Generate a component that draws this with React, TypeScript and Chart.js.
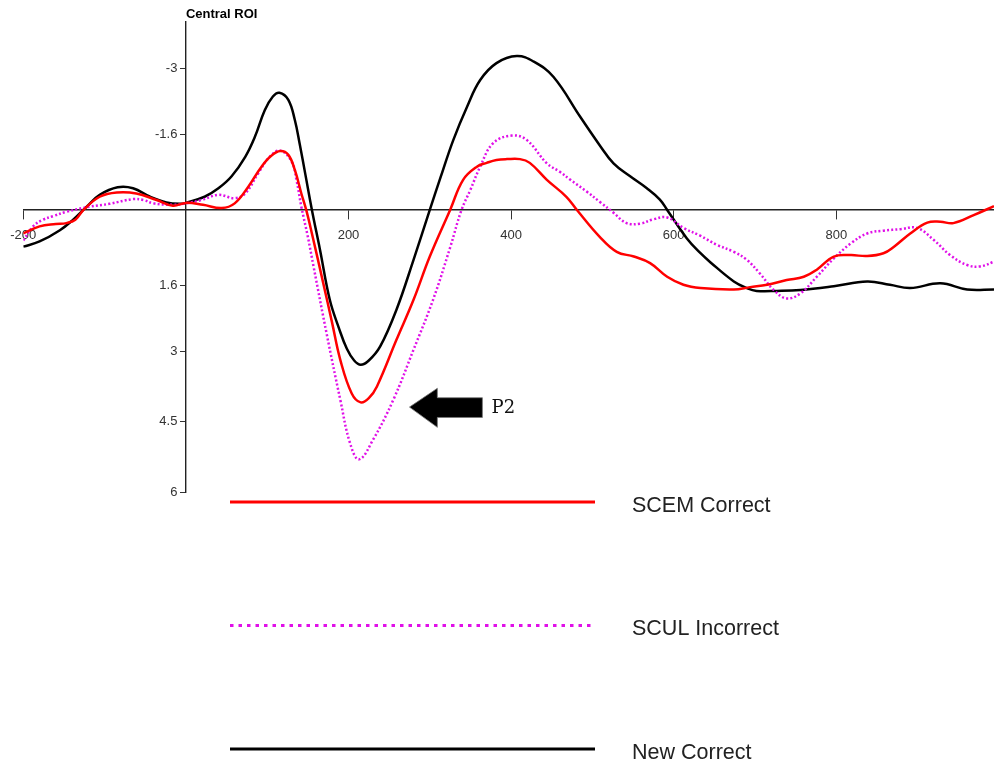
import React, { useEffect, useRef } from "react";
import { Chart, registerables } from "chart.js";

Chart.register(...registerables);

// ---- data (ms, µV) ----
const timesScemCorrect = [-200, -180, -160, -147, -136, -126, -106, -85, -61, -36, -16, 0, 21, 44, 60, 77, 93, 105, 116, 126, 134, 142, 148, 155, 169, 180, 190, 204, 215, 225, 235, 259, 280, 300, 325, 341, 358, 370, 382, 395, 411, 423, 444, 468, 481, 509, 530, 551, 571, 592, 612, 633, 674, 694, 715, 739, 760, 776, 797, 818, 838, 858, 871, 891, 912, 928, 944, 969, 994];
const valuesScemCorrect = [0.5, 0.35, 0.3, 0.28, 0.21, 0.0, -0.28, -0.37, -0.35, -0.21, -0.09, -0.15, -0.11, -0.04, -0.14, -0.5, -0.92, -1.15, -1.25, -1.17, -0.85, -0.35, 0.0, 0.5, 1.56, 2.41, 3.19, 3.9, 4.09, 4.0, 3.75, 2.76, 1.91, 0.99, 0.0, -0.64, -0.92, -1.0, -1.06, -1.08, -1.08, -1.0, -0.64, -0.28, 0.0, 0.57, 0.89, 0.99, 1.13, 1.42, 1.59, 1.66, 1.69, 1.64, 1.59, 1.49, 1.42, 1.27, 0.99, 0.96, 0.98, 0.92, 0.78, 0.5, 0.27, 0.25, 0.28, 0.11, -0.08];

const timesSculIncorrect = [-200, -188, -176, -163, -147, -118, -94, -65, -52, -40, -16, 0, 19, 40, 60, 73, 89, 103, 116, 130, 136, 142, 150, 157, 173, 190, 202, 213, 230, 255, 280, 304, 325, 339, 350, 362, 378, 401, 419, 444, 460, 473, 493, 510, 526, 542, 559, 575, 592, 612, 633, 653, 674, 690, 706, 723, 739, 756, 776, 797, 818, 838, 858, 879, 899, 920, 940, 961, 977, 994];
const valuesSculIncorrect = [0.65, 0.35, 0.21, 0.13, 0.04, -0.07, -0.13, -0.23, -0.21, -0.14, -0.11, -0.14, -0.21, -0.32, -0.25, -0.35, -0.78, -1.13, -1.26, -1.03, -0.64, -0.07, 0.57, 1.2, 2.62, 4.04, 4.96, 5.3, 4.89, 4.04, 2.97, 1.91, 0.8, 0.0, -0.43, -0.92, -1.42, -1.58, -1.49, -0.99, -0.81, -0.64, -0.39, -0.16, 0.06, 0.28, 0.29, 0.2, 0.16, 0.38, 0.55, 0.74, 0.89, 1.06, 1.35, 1.7, 1.88, 1.77, 1.42, 1.03, 0.71, 0.5, 0.44, 0.41, 0.38, 0.64, 0.96, 1.17, 1.2, 1.1];

const timesNewCorrect = [-200, -180, -155, -139, -122, -106, -84, -65, -44, -24, -7, 0, 23, 40, 56, 73, 85, 97, 107, 115, 126, 134, 140, 147, 155, 165, 177, 188, 198, 207, 215, 225, 239, 259, 280, 300, 313, 329, 346, 362, 382, 407, 428, 452, 485, 510, 526, 546, 567, 583, 592, 616, 633, 645, 674, 690, 702, 727, 756, 797, 838, 866, 891, 928, 961, 994];
const valuesNewCorrect = [0.78, 0.67, 0.43, 0.21, -0.07, -0.32, -0.48, -0.46, -0.28, -0.16, -0.13, -0.15, -0.28, -0.46, -0.71, -1.13, -1.56, -2.12, -2.41, -2.49, -2.34, -1.91, -1.4, -0.75, 0.0, 0.85, 1.91, 2.5, 2.95, 3.2, 3.29, 3.2, 2.9, 2.12, 1.06, 0.0, -0.68, -1.49, -2.2, -2.76, -3.12, -3.27, -3.15, -2.83, -1.98, -1.35, -0.99, -0.72, -0.46, -0.22, 0.0, 0.6, 0.92, 1.11, 1.52, 1.66, 1.72, 1.72, 1.7, 1.62, 1.52, 1.59, 1.66, 1.56, 1.69, 1.69];

const seriesLabels = ["SCEM Correct", "SCUL Incorrect", "New Correct"];
const xTickValues = [-200, 200, 400, 600, 800];
const yTickValues = [-3, -1.6, 1.6, 3, 4.5, 6];
const chartTitle = "Central ROI";
const annotationText = "P2";

// annotation arrow geometry, in data units (ms, µV)
const arrowTip = { x: 275, y: 4.19 };
const arrowHeadBack = { x: 309.3, top: 3.79, bottom: 4.62 };
const arrowShaft = { end: 364.7, top: 3.99, bottom: 4.41 };
const annotationLabelPos = { x: 376, y: 4.31 };

const FONT = "'Liberation Sans', Arial, Helvetica, sans-serif";
const Y_LABEL_SHIFT = 8.5;

function toPoints(t: number[], v: number[]) {
  return t.map((x, i) => ({ x, y: v[i] }));
}

const overlayPlugin = {
  id: "overlay",
  afterDraw(chart: any) {
    const ctx = chart.ctx as CanvasRenderingContext2D;
    const xs = chart.scales.x;
    const ys = chart.scales.y;
    ctx.save();

    // title
    ctx.font = `bold 13px ${FONT}`;
    ctx.fillStyle = "#000";
    ctx.textAlign = "left";
    ctx.textBaseline = "alphabetic";
    ctx.fillText(chartTitle, xs.getPixelForValue(0), 18.3);

    // arrow
    const px = (v: number) => xs.getPixelForValue(v);
    const py = (v: number) => ys.getPixelForValue(v);
    ctx.beginPath();
    ctx.moveTo(px(arrowTip.x), py(arrowTip.y));
    ctx.lineTo(px(arrowHeadBack.x), py(arrowHeadBack.top));
    ctx.lineTo(px(arrowHeadBack.x), py(arrowShaft.top));
    ctx.lineTo(px(arrowShaft.end), py(arrowShaft.top));
    ctx.lineTo(px(arrowShaft.end), py(arrowShaft.bottom));
    ctx.lineTo(px(arrowHeadBack.x), py(arrowShaft.bottom));
    ctx.lineTo(px(arrowHeadBack.x), py(arrowHeadBack.bottom));
    ctx.closePath();
    ctx.fillStyle = "#000";
    ctx.fill();
    ctx.strokeStyle = "#777";
    ctx.lineWidth = 0.8;
    ctx.stroke();

    ctx.font = `18px 'DejaVu Serif', 'Liberation Serif', serif`;
    ctx.fillStyle = "#111";
    ctx.fillText(annotationText, px(annotationLabelPos.x), py(annotationLabelPos.y));

    // legend
    chart.data.datasets.forEach((ds: any, i: number) => {
      const y = 501.9 + i * 123.5;
      ctx.beginPath();
      ctx.strokeStyle = ds.borderColor;
      ctx.lineWidth = 3;
      ctx.setLineDash(ds.borderDash && ds.borderDash.length ? [3.5, 5] : []);
      ctx.moveTo(230, y);
      ctx.lineTo(595, y);
      ctx.stroke();
      ctx.setLineDash([]);
      ctx.font = `21.5px ${FONT}`;
      ctx.fillStyle = "#222";
      ctx.textAlign = "left";
      ctx.textBaseline = "alphabetic";
      ctx.fillText(ds.label, 632, y + 9.6);
    });

    ctx.restore();
  },
};

export default function App() {
  const canvasRef = useRef<HTMLCanvasElement | null>(null);

  useEffect(() => {
    if (!canvasRef.current) return;
    const lineCommon = { pointRadius: 0, tension: 0.4, fill: false, borderWidth: 2.5 };
    const chart = new Chart(canvasRef.current, {
      type: "line",
      data: {
        datasets: [
          {
            ...lineCommon,
            label: seriesLabels[0],
            data: toPoints(timesScemCorrect, valuesScemCorrect),
            borderColor: "#ff0000",
          },
          {
            ...lineCommon,
            label: seriesLabels[1],
            data: toPoints(timesSculIncorrect, valuesSculIncorrect),
            borderColor: "#e010e8",
            borderDash: [2, 2.2],
          },
          {
            ...lineCommon,
            label: seriesLabels[2],
            data: toPoints(timesNewCorrect, valuesNewCorrect),
            borderColor: "#000000",
          },
        ],
      },
      options: {
        animation: false,
        responsive: false,
        devicePixelRatio: 1,
        layout: { padding: { left: 23.3, right: 0, top: 21.7, bottom: 266.7 } },
        plugins: { legend: { display: false }, title: { display: false }, tooltip: { enabled: false } },
        scales: {
          x: {
            type: "linear",
            position: { y: 0 } as any,
            min: -200,
            max: 994,
            afterBuildTicks: (scale: any) => {
              scale.ticks = xTickValues.map((v) => ({ value: v }));
            },
            grid: { display: true, drawOnChartArea: false, drawTicks: true, tickLength: 9, color: "#333", lineWidth: 1 },
            border: { display: true, color: "#222", width: 1.4 },
            ticks: {
              padding: 9,
              color: "#333",
              font: { family: FONT, size: 13 },
              maxRotation: 0,
              autoSkip: false,
              callback: (v: any) => String(v),
            },
          },
          y: {
            type: "linear",
            position: { x: 0 } as any,
            min: -4,
            max: 6,
            reverse: true,
            afterBuildTicks: (scale: any) => {
              scale.ticks = yTickValues.map((v) => ({ value: v }));
            },
            afterUpdate: (scale: any) => {
              if (scale.__shiftWrapped) return;
              const orig = scale._computeLabelItems;
              if (typeof orig !== "function") return;
              scale.__shiftWrapped = true;
              scale._computeLabelItems = function (area: any) {
                const items = orig.call(this, area);
                items.forEach((it: any) => {
                  if (it && it.options && Array.isArray(it.options.translation)) {
                    it.options.translation = [it.options.translation[0] - Y_LABEL_SHIFT, it.options.translation[1]];
                  }
                });
                return items;
              };
              scale._labelItemsCache = null;
            },
            grid: { display: true, drawOnChartArea: false, drawTicks: true, tickLength: 5, color: "#333", lineWidth: 1 },
            border: { display: true, color: "#222", width: 1.4 },
            ticks: {
              padding: 3,
              color: "#333",
              font: { family: FONT, size: 13 },
              autoSkip: false,
              callback: (v: any) => String(v),
            },
          },
        },
      },
      plugins: [overlayPlugin],
    } as any);
    return () => chart.destroy();
  }, []);

  return (
    <div style={{ position: "absolute", left: 0, top: 0, width: 994, height: 759, background: "#fff" }}>
      <canvas ref={canvasRef} width={994} height={759} style={{ display: "block" }} />
    </div>
  );
}
